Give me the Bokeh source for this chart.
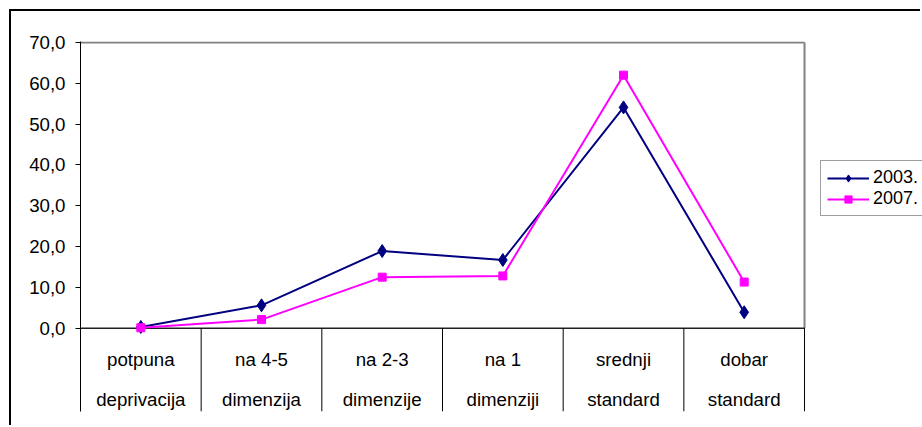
from bokeh.plotting import figure
from bokeh.models import Range1d, LinearAxis, FixedTicker, Legend, LegendItem
from bokeh.core.properties import value
from bokeh.embed import file_html
from bokeh.resources import INLINE

# ---- data ----
categories_line1 = ["potpuna", "na 4-5", "na 2-3", "na 1", "srednji", "dobar"]
categories_line2 = ["deprivacija", "dimenzija", "dimenzije", "dimenziji", "standard", "standard"]
values_2003 = [0.3, 5.6, 18.9, 16.7, 54.1, 3.9]
values_2007 = [0.1, 2.1, 12.5, 12.8, 62.0, 11.3]
series_names = ["2003.", "2007."]
y_ticks = [0, 10, 20, 30, 40, 50, 60, 70]
y_tick_labels = ["0,0", "10,0", "20,0", "30,0", "40,0", "50,0", "60,0", "70,0"]

FONT = "Liberation Sans"
FS = "18.7px"

n = len(categories_line1)
xpos = list(range(n))
bounds = [i - 0.5 for i in range(n + 1)]
y_max = y_ticks[-1]

# layout constants (pixels)
W, H = 911, 416
LEFT, TOP, BOTTOM = 69, 30, 16
px_per_unit = 4.081          # vertical pixels per 1.0 of value
px_per_cat = 120.67          # horizontal pixels per category
frame_h = H - TOP - BOTTOM
frame_w = W - LEFT
y_end = y_max + 1.0 / px_per_unit
y_start = y_end - frame_h / px_per_unit
x_start = -0.5
x_end = x_start + frame_w / px_per_cat

p = figure(width=W, height=H, output_backend="svg", toolbar_location=None,
           x_range=Range1d(x_start, x_end), y_range=Range1d(y_start, y_end),
           x_axis_location=None, y_axis_location=None,
           min_border_left=LEFT, min_border_top=TOP, min_border_right=0,
           min_border_bottom=BOTTOM)
p.xgrid.visible = False
p.ygrid.visible = False
p.outline_line_color = None
p.background_fill_color = "white"
p.border_fill_color = "white"
p.styles = {"margin-left": "9px", "margin-top": "9px",
            "border-top": "2px solid black", "border-left": "2px solid black"}

# y axis
yax = LinearAxis(ticker=FixedTicker(ticks=y_ticks, minor_ticks=[]),
                 major_label_overrides={t: l for t, l in zip(y_ticks, y_tick_labels)},
                 major_tick_out=5, major_tick_in=0, minor_tick_out=0, minor_tick_in=0,
                 axis_line_color="black", major_tick_line_color="black",
                 major_label_text_font=FONT, major_label_text_font_size=FS,
                 major_label_text_color="black", major_label_standoff=10)
p.add_layout(yax, "left")

# plot-area border (grey, top and right)
p.segment(x0=[bounds[0], bounds[-1]], y0=[y_max, 0], x1=[bounds[-1], bounds[-1]], y1=[y_max, y_max],
          line_color="#808080", line_width=2)
# category axis line and dividers
p.segment(x0=[bounds[0]], y0=[0], x1=[bounds[-1]], y1=[0], line_color="#202020", line_width=1.5)
p.segment(x0=bounds[1:], y0=[0] * n, x1=bounds[1:], y1=[y_start] * n,
          line_color="black", line_width=1)

# category labels (two lines)
lab_y1 = -31.3 / px_per_unit
lab_y2 = -71.3 / px_per_unit
p.text(x=xpos, y=[lab_y1] * n, text=categories_line1, text_align="center",
       text_baseline="middle", text_font=value(FONT), text_font_size=value(FS),
       text_color="black")
p.text(x=xpos, y=[lab_y2] * n, text=categories_line2, text_align="center",
       text_baseline="middle", text_font=value(FONT), text_font_size=value(FS),
       text_color="black")

navy = "#000080"
magenta = "#FF00FF"
l1 = p.line(xpos, values_2003, line_color=navy, line_width=2)
m1 = p.scatter(xpos, values_2003, marker="diamond", size=13, fill_color=navy, line_color=navy)
l2 = p.line(xpos, values_2007, line_color=magenta, line_width=2)
m2 = p.scatter(xpos, values_2007, marker="square", size=8, fill_color=magenta, line_color=magenta)

legend = Legend(items=[LegendItem(label=series_names[0], renderers=[l1, m1]),
                       LegendItem(label=series_names[1], renderers=[l2, m2])],
                location=(740, 195), orientation="vertical",
                label_text_font=FONT, label_text_font_size="18px", label_text_color="black",
                border_line_color="#404040", border_line_width=1.5,
                background_fill_color="white", background_fill_alpha=1,
                glyph_width=42, glyph_height=18, label_height=18, label_standoff=4,
                spacing=0, padding=6, margin=0)
p.add_layout(legend)

open("out.html", "w").write(file_html(p, INLINE))
